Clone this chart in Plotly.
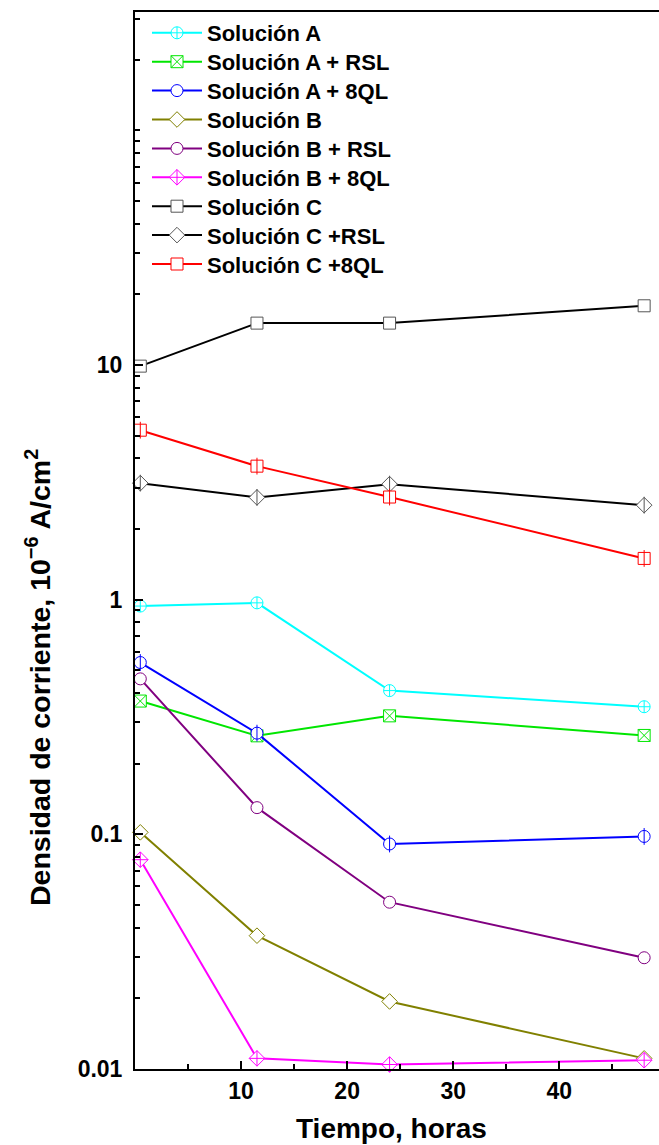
import plotly.graph_objects as go

# ---- data ----
tiempo = [0.5, 11.5, 24, 48]
sol_a = [0.94, 0.97, 0.41, 0.35]
sol_a_rsl = [0.37, 0.263, 0.32, 0.264]
sol_a_8ql = [0.54, 0.27, 0.091, 0.098]
sol_b = [0.102, 0.037, 0.0194, 0.0111]
sol_b_rsl = [0.46, 0.130, 0.0514, 0.0298]
sol_b_8ql = [0.078, 0.0111, 0.01045, 0.0109]
sol_c = [9.9, 15.1, 15.1, 17.9]
sol_c_rsl = [3.14, 2.73, 3.11, 2.53]
sol_c_8ql = [5.28, 3.71, 2.74, 1.50]

series = [
    ("Solución A", sol_a, "#00ffff", "circle-cross", False),
    ("Solución A + RSL", sol_a_rsl, "#00e600", "square-x", False),
    ("Solución A + 8QL", sol_a_8ql, "#0000ff", "circle", True),
    ("Solución B", sol_b, "#808000", "diamond", False),
    ("Solución B + RSL", sol_b_rsl, "#800080", "circle", False),
    ("Solución B + 8QL", sol_b_8ql, "#ff00ff", "diamond-cross", False),
    ("Solución C", sol_c, "#000000", "square", False),
    ("Solución C +RSL", sol_c_rsl, "#000000", "diamond", True),
    ("Solución C +8QL", sol_c_8ql, "#ff0000", "square", True),
]

FONT = "Liberation Sans, Arial, sans-serif"
MS = 12

L, R, T, B = 135, 0, 12, 76
W, H = 659, 1145
pw = W - L - R
ph = H - T - B


def px_x(px):
    return (px - L) / pw


def px_y(py):
    return (H - B - py) / ph


fig = go.Figure()
legends = {}
for i, (name, vals, col, sym, vbar) in enumerate(series):
    mcol = "#555555" if col == "#000000" else col
    lg = "legend" if i == 0 else f"legend{i + 1}"
    legends[lg] = dict(
        x=px_x(147), y=px_y(33 + 28.9 * i), xanchor="left", yanchor="middle",
        bgcolor="rgba(0,0,0,0)", borderwidth=0, itemwidth=50,
        font=dict(family=FONT, size=22, weight="bold", color="black"),
    )
    fig.add_trace(go.Scatter(
        x=tiempo, y=vals, name=name, mode="lines+markers", legend=lg,
        line=dict(color=col, width=2),
        marker=dict(symbol=sym, size=MS, color="white",
                    line=dict(color=mcol, width=1)),
        cliponaxis=False,
    ))
    if vbar:
        fig.add_trace(go.Scatter(
            x=tiempo, y=vals, mode="markers", showlegend=False,
            hoverinfo="skip",
            marker=dict(symbol="line-ns-open", size=MS, color=mcol,
                        line=dict(width=1)),
            cliponaxis=False,
        ))

fig.update_layout(
    width=W, height=H,
    margin=dict(l=L, r=R, t=T, b=B, pad=0),
    paper_bgcolor="white", plot_bgcolor="white",
    font=dict(family=FONT, color="black"),
    showlegend=True,
    xaxis=dict(
        range=[0, 49.4], showgrid=False, zeroline=False,
        showline=True, linecolor="black", linewidth=2, mirror=True,
        ticks="inside", ticklen=8, tickwidth=2, tickcolor="black",
        tickvals=[10, 20, 30, 40], ticktext=["10", "20", "30", "40"],
        tickfont=dict(family=FONT, size=23, weight="bold"),
        minor=dict(ticks="inside", ticklen=5, tickwidth=2, tickcolor="black",
                   tickvals=[5, 15, 25, 35, 45], showgrid=False),
    ),
    yaxis=dict(
        type="log", range=[-2, 2.505], showgrid=False, zeroline=False,
        showline=True, linecolor="black", linewidth=2,
        ticks="inside", ticklen=8, tickwidth=2, tickcolor="black",
        tickvals=[0.01, 0.1, 1, 10], ticktext=["0.01", "0.1", "1", "10"],
        tickfont=dict(family=FONT, size=23, weight="bold"),
        ticklabelstandoff=6,
        minor=dict(ticks="inside", ticklen=5, tickwidth=2, tickcolor="black",
                   dtick="D1", showgrid=False),
    ),
    **legends,
)

fig.add_annotation(
    text="Tiempo, horas", xref="paper", yref="paper",
    x=px_x(391), y=px_y(1128), xanchor="center", yanchor="middle",
    showarrow=False, font=dict(family=FONT, size=28, weight="bold"),
)
fig.add_annotation(
    text="Densidad de corriente, 10<sup>\u22126</sup> A/cm<sup>2</sup>",
    xref="paper", yref="paper", textangle=-90,
    x=px_x(38), y=px_y(678), xanchor="center", yanchor="middle",
    showarrow=False, font=dict(family=FONT, size=28.5, weight="bold"),
)

fig.write_html("out.html")
